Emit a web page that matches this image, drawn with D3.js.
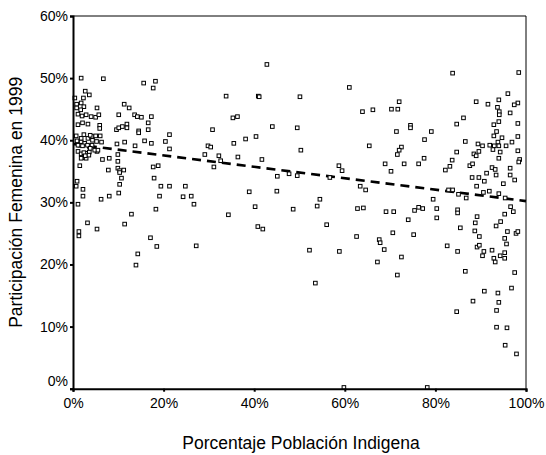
<!DOCTYPE html>
<html>
<head>
<meta charset="utf-8">
<script src="https://cdn.jsdelivr.net/npm/d3@7"></script>
<style>
  html, body { margin: 0; padding: 0; background: #fff; }
  svg { display: block; }
  text { font-family: "Liberation Sans", Arial, Helvetica, sans-serif; fill: #000; }
</style>
</head>
<body>
<svg id="chart" width="546" height="455"></svg>
<script>
// Porcentaje Población Indigena (x, %)
const indigena = [
  1.8,6.7,15.6,18.2,17.7,2.7,3.6,0.4,2.3,0.8,1.8,2.4,0.8,1.7,5.3,11.3,12.4,1.1,2.0,2.9,
  4.0,5.0,5.7,10.1,13.6,14.2,15.1,17.3,16.6,1.1,2.1,3.3,5.9,5.9,9.6,10.1,10.9,11.9,11.9,14.5,
  14.5,16.6,30.8,0.7,1.8,2.4,3.3,4.2,5.0,6.0,21.3,0.9,1.8,1.5,2.6,3.6,4.2,6.3,9.7,11.4,
  13.7,15.8,17.3,20.4,21.3,29.8,30.4,1.1,1.8,2.9,3.6,5.3,9.9,29.1,32.2,32.6,2.0,2.9,6.5,8.0,
  9.9,1.5,9.9,10.3,11.2,7.8,17.7,18.8,31.1,10.3,10.7,17.9,0.9,10.3,0.7,19.4,21.3,24.8,2.2,10.1,
  2.2,8.0,6.2,19.1,24.3,26.1,26.7,1.1,18.3,12.9,3.2,5.3,11.4,1.3,1.3,17.1,18.5,27.2,14.3,13.9,
  3.8,4.3,5.2,1.1,2.1,3.2,3.8,4.8,5.5,2.4,3.5,1.8,2.7,
  42.8,61.0,33.8,40.9,41.1,50.1,66.2,63.9,35.3,36.3,44.0,49.5,40.4,38.1,35.5,65.4,50.3,36.4,41.7,58.7,
  59.4,45.1,47.7,49.5,56.7,63.4,64.6,38.9,45.0,54.5,40.2,48.6,53.9,62.8,64.1,34.3,40.8,41.9,56.0,62.6,
  52.2,58.8,53.5,59.8,
  83.8,98.4,96.0,72.0,89.0,91.6,94.0,98.2,97.4,93.7,94.1,94.1,96.5,70.3,71.7,86.2,94.0,84.7,92.9,98.2,
  74.5,74.5,71.4,79.1,93.5,92.9,94.7,98.2,77.6,86.6,93.8,96.9,89.4,90.4,92.0,93.0,94.0,95.6,72.5,72.0,
  71.6,84.7,88.5,89.0,89.6,92.7,94.3,98.2,77.5,83.7,83.2,94.0,98.6,98.4,68.9,73.1,76.3,70.2,82.2,87.6,
  88.2,92.5,93.2,96.5,91.3,93.4,96.5,88.1,89.6,90.8,97.5,89.1,95.0,82.9,83.8,85.1,90.6,91.9,94.0,86.8,
  79.5,95.4,96.6,76.3,77.2,80.3,84.9,69.1,70.8,75.4,84.9,97.2,89.2,95.3,80.3,74.0,88.8,94.4,93.4,85.5,
  88.7,89.7,95.9,97.8,98.2,70.6,75.2,95.3,95.7,67.6,67.8,68.7,82.6,89.2,89.7,84.9,90.7,90.4,92.5,95.3,
  94.3,92.9,93.2,95.3,72.5,67.2,71.6,86.6,97.5,96.8,90.8,93.8,88.3,94.0,93.5,84.7,93.5,95.8,95.4,97.9,
  78.2
];
// Participación Femenina en 1999 (y, %)
const participacion = [
  50.0,49.9,49.2,49.5,48.4,47.9,47.3,46.8,46.8,45.8,46.0,45.4,45.2,44.9,45.2,45.8,45.2,44.2,43.9,44.1,
  43.8,43.7,44.1,44.1,44.1,43.8,43.7,43.8,42.8,42.5,42.8,42.6,42.4,41.9,41.7,42.0,42.2,42.6,42.0,41.5,
  41.2,41.7,41.7,40.7,40.3,40.9,40.3,40.6,40.7,40.7,40.9,39.9,39.7,39.2,39.5,39.0,39.2,39.7,39.4,39.7,
  39.1,39.9,39.5,39.8,38.6,39.1,38.9,38.2,37.8,37.9,38.1,38.2,37.7,37.7,37.5,36.7,37.2,37.1,36.9,37.1,
  36.6,35.9,35.5,35.1,35.2,35.2,35.7,35.9,35.7,34.8,33.9,33.9,33.4,32.9,32.6,32.6,32.6,32.6,32.1,31.5,
  31.0,31.0,30.5,31.0,30.9,31.0,29.7,29.7,28.9,28.1,26.7,25.7,26.5,25.3,24.6,24.3,22.9,23.0,21.7,19.9,
  40.8,40.0,39.8,39.2,39.1,39.2,38.7,38.4,38.4,38.0,37.6,37.1,37.5,
  52.2,48.5,47.1,47.1,47.0,47.0,44.9,44.6,43.6,43.8,42.2,42.0,40.6,40.2,39.5,39.1,38.4,37.3,36.9,35.9,
  35.1,34.2,34.6,34.3,34.0,32.6,32.0,31.7,31.8,30.5,29.3,28.9,29.4,29.0,29.1,28.0,26.1,25.7,26.4,24.5,
  22.3,22.1,17.0,0.2,
  50.8,50.9,47.5,46.2,46.2,45.8,46.5,46.0,45.7,45.3,44.6,44.1,44.4,45.0,45.0,43.6,43.0,42.6,42.5,42.7,
  42.4,42.0,41.4,41.4,41.4,40.7,40.4,40.6,40.1,39.8,39.7,39.7,39.4,39.1,39.2,39.1,39.1,39.1,38.9,38.4,
  37.7,38.1,37.8,37.5,38.2,38.5,38.1,38.3,37.1,36.8,35.8,37.1,36.9,36.5,36.2,36.2,36.2,35.0,35.2,35.9,
  36.2,35.6,35.3,35.5,34.7,34.4,34.4,34.0,34.0,33.4,33.6,32.6,33.0,32.0,32.0,31.3,31.6,31.8,31.4,30.7,
  30.5,30.7,29.3,29.2,29.0,29.0,28.8,28.5,28.5,28.7,28.3,28.5,27.7,28.1,27.5,27.2,26.7,26.9,26.2,25.9,
  25.4,24.5,25.3,25.0,25.3,25.1,24.8,24.2,23.3,24.0,23.5,22.4,23.0,22.8,23.1,22.1,22.1,21.4,22.3,21.9,
  21.4,21.0,20.4,21.0,21.2,20.4,18.3,18.9,18.7,16.2,15.7,15.4,14.1,13.9,12.6,12.4,9.9,9.8,7.0,5.6,
  0.2
];
// Línea de tendencia (x %, y %)
const trendX = [0, 100];
const trendY = [39.4, 30.2];
const xTicks = [0, 20, 40, 60, 80, 100];
const yTicks = [0, 10, 20, 30, 40, 50, 60];
const xTitle = "Porcentaje Población Indigena";
const yTitle = "Participación Femenina en 1999";

const W = 546, H = 455;
const margin = {left: 73, top: 16, right: 20, bottom: 66.3};
const iw = W - margin.left - margin.right;
const ih = H - margin.top - margin.bottom;

const svg = d3.select("#chart");
const g = svg.append("g").attr("transform", `translate(${margin.left},${margin.top})`);

const x = d3.scaleLinear().domain([0, 100]).range([0, iw]);
const y = d3.scaleLinear().domain([0, 60]).range([ih, 0]);

// frame (top & right)
g.append("line").attr("x1", 0).attr("x2", iw).attr("y1", 0).attr("y2", 0)
  .attr("stroke", "#000").attr("stroke-width", 1);
g.append("line").attr("x1", iw).attr("x2", iw).attr("y1", 0).attr("y2", ih)
  .attr("stroke", "#000").attr("stroke-width", 1);

// trend line
const trend = trendX.map((v, i) => [v, trendY[i]]);
g.append("path")
  .datum(trend)
  .attr("d", d3.line().x(d => x(d[0])).y(d => y(d[1])))
  .attr("fill", "none")
  .attr("stroke", "#000")
  .attr("stroke-width", 2.6)
  .attr("stroke-dasharray", "9,6");

// points
const pts = indigena.map((v, i) => [v, participacion[i]]);
const s = 3.6;
g.append("g").selectAll("rect").data(pts).join("rect")
  .attr("x", d => x(d[0]) - s / 2)
  .attr("y", d => y(d[1]) - s / 2)
  .attr("width", s).attr("height", s)
  .attr("fill", "#fff")
  .attr("stroke", "#000")
  .attr("stroke-width", 1);

// axes
const xAxis = g.append("g").attr("transform", `translate(0,${ih})`)
  .call(d3.axisBottom(x).tickValues(xTicks).tickFormat(d => d + "%").tickSize(3).tickPadding(6.5));
const yAxis = g.append("g")
  .call(d3.axisLeft(y).tickValues(yTicks).tickFormat(d => d + "%").tickSize(3).tickPadding(2));

[xAxis, yAxis].forEach(a => {
  a.select(".domain").attr("stroke", "#000").attr("stroke-width", 2);
  a.selectAll(".tick line").attr("stroke", "#000").attr("stroke-width", 2);
  a.selectAll(".tick text").attr("font-size", 14).attr("font-family", "Liberation Sans, Arial, sans-serif").attr("fill", "#000");
});
// lower the 0% label slightly above the axis corner
yAxis.selectAll(".tick").filter(d => d === 0).select("text").attr("dy", "-0.25em");

// titles
svg.append("text")
  .attr("x", 301).attr("y", 449)
  .attr("text-anchor", "middle")
  .attr("font-size", 17.5)
  .text(xTitle);

svg.append("text")
  .attr("transform", `translate(21.5,${margin.top + ih / 2}) rotate(-90)`)
  .attr("text-anchor", "middle")
  .attr("font-size", 17.5)
  .text(yTitle);
</script>
</body>
</html>
